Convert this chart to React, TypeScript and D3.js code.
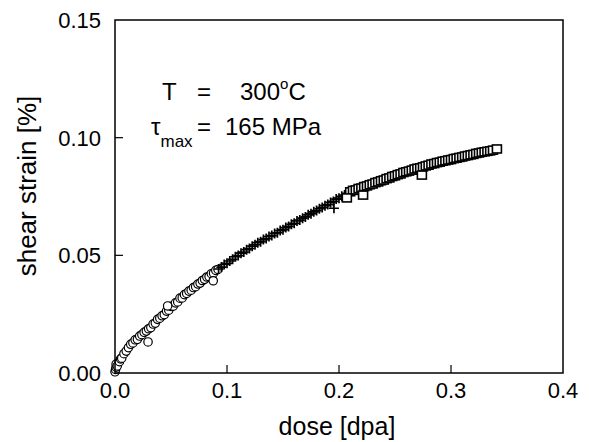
import React from 'react';
import * as d3 from 'd3';

// dose [dpa] vs shear strain [%], three overlapping data sets
const circles: [number, number][] = [
  [0.000, 0.0005], [0.0005, 0.0015], [0.001, 0.0025], [0.001, 0.0038], [0.002, 0.0030],
  [0.004, 0.0048], [0.005, 0.0060], [0.006, 0.0063], [0.008, 0.0082], [0.010, 0.0093],
  [0.012, 0.0108], [0.014, 0.0122], [0.016, 0.0128], [0.018, 0.0141], [0.020, 0.0143],
  [0.022, 0.0157], [0.024, 0.0163], [0.026, 0.0173], [0.028, 0.0178], [0.030, 0.0188],
  [0.032, 0.0193], [0.034, 0.0208], [0.036, 0.0212], [0.038, 0.0228], [0.040, 0.0233],
  [0.042, 0.0243], [0.044, 0.0248], [0.046, 0.0263], [0.048, 0.0267], [0.050, 0.0283],
  [0.052, 0.0284], [0.054, 0.0298], [0.056, 0.0302], [0.058, 0.0318], [0.060, 0.0319],
  [0.062, 0.0333], [0.064, 0.0338], [0.066, 0.0348], [0.068, 0.0352], [0.070, 0.0363],
  [0.072, 0.0367], [0.074, 0.0378], [0.076, 0.0382], [0.078, 0.0393], [0.080, 0.0398],
  [0.082, 0.0408], [0.084, 0.0410], [0.086, 0.0422], [0.088, 0.0424], [0.090, 0.0436],
  [0.092, 0.0440],
  [0.0295, 0.0132], [0.0877, 0.0392], [0.047, 0.0285]
];

const crosses: [number, number][] = [
  [0.0925, 0.0442], [0.0950, 0.0450], [0.0975, 0.0461], [0.1000, 0.0466], [0.1025, 0.0476],
  [0.1050, 0.0483], [0.1075, 0.0494], [0.1100, 0.0499], [0.1125, 0.0509], [0.1150, 0.0514],
  [0.1175, 0.0524], [0.1200, 0.0529], [0.1225, 0.0539], [0.1250, 0.0545], [0.1275, 0.0554],
  [0.1300, 0.0558], [0.1325, 0.0567], [0.1350, 0.0571], [0.1375, 0.0580], [0.1400, 0.0584],
  [0.1425, 0.0593], [0.1450, 0.0596], [0.1475, 0.0605], [0.1500, 0.0609], [0.1525, 0.0618],
  [0.1550, 0.0623], [0.1575, 0.0632], [0.1600, 0.0636], [0.1625, 0.0646], [0.1650, 0.0650],
  [0.1675, 0.0658], [0.1700, 0.0663], [0.1725, 0.0672], [0.1750, 0.0677], [0.1775, 0.0685],
  [0.1800, 0.0690], [0.1825, 0.0698], [0.1850, 0.0703], [0.1875, 0.0711], [0.1900, 0.0716],
  [0.1925, 0.0725], [0.1950, 0.0729], [0.1975, 0.0739], [0.2000, 0.0743], [0.2025, 0.0751],
  [0.2050, 0.0756], [0.2075, 0.0763], [0.2100, 0.0767],
  [0.1955, 0.0700]
];

const squares: [number, number][] = [
  [0.2100, 0.0770], [0.2125, 0.0776], [0.2150, 0.0778], [0.2175, 0.0784], [0.2200, 0.0786],
  [0.2225, 0.0792], [0.2250, 0.0795], [0.2275, 0.0800], [0.2300, 0.0803], [0.2325, 0.0809],
  [0.2350, 0.0812], [0.2375, 0.0817], [0.2400, 0.0820], [0.2425, 0.0826], [0.2450, 0.0829],
  [0.2475, 0.0835], [0.2500, 0.0838], [0.2525, 0.0843], [0.2550, 0.0846], [0.2575, 0.0852],
  [0.2600, 0.0855], [0.2625, 0.0858], [0.2650, 0.0862], [0.2675, 0.0867], [0.2700, 0.0870],
  [0.2725, 0.0872], [0.2750, 0.0876], [0.2775, 0.0880], [0.2800, 0.0883], [0.2825, 0.0888],
  [0.2850, 0.0890], [0.2875, 0.0894], [0.2900, 0.0896], [0.2925, 0.0900], [0.2950, 0.0902],
  [0.2975, 0.0905], [0.3000, 0.0907], [0.3025, 0.0911], [0.3050, 0.0913], [0.3075, 0.0916],
  [0.3100, 0.0918], [0.3125, 0.0922], [0.3150, 0.0924], [0.3175, 0.0927], [0.3200, 0.0929],
  [0.3225, 0.0933], [0.3250, 0.0935], [0.3275, 0.0938], [0.3300, 0.0940], [0.3325, 0.0942],
  [0.3350, 0.0944], [0.3375, 0.0947], [0.3410, 0.0952],
  [0.2070, 0.0744], [0.2215, 0.0756], [0.2740, 0.0841]
];

const xTicks = [0.0, 0.1, 0.2, 0.3, 0.4];
const yTicks = [0.0, 0.05, 0.1, 0.15];

const W = 589;
const H = 442;
const margin = { top: 20, right: 26, bottom: 69, left: 115 };
const font = 'Arial, "Liberation Sans", sans-serif';

export default function App() {
  const x = d3.scaleLinear().domain([0, 0.4]).range([margin.left, W - margin.right]);
  const y = d3.scaleLinear().domain([0, 0.15]).range([H - margin.bottom, margin.top]);
  const x0 = x(0), x1 = x(0.4), y0 = y(0), y1 = y(0.15);

  return (
    <svg width={W} height={H} style={{ position: 'absolute', left: 0, top: 0, background: '#fff' }}
      fontFamily={font}>
      <rect x={0} y={0} width={W} height={H} fill="#fff" />

      {/* ticks, pointing inward */}
      {xTicks.slice(1, -1).map(t => (
        <line key={'xt' + t} x1={x(t)} x2={x(t)} y1={y0} y2={y0 - 8} stroke="#000" strokeWidth={1.2} />
      ))}
      {yTicks.slice(1, -1).map(t => (
        <line key={'yt' + t} x1={x0} x2={x0 + 8} y1={y(t)} y2={y(t)} stroke="#000" strokeWidth={1.2} />
      ))}

      {/* data */}
      {circles.map((d, i) => (
        <circle key={'c' + i} cx={x(d[0])} cy={y(d[1])} r={4.2} fill="#fff" stroke="#000" strokeWidth={1.2} />
      ))}
      {crosses.map((d, i) => (
        <path key={'p' + i} d={`M${x(d[0]) - 5},${y(d[1])}h10M${x(d[0])},${y(d[1]) - 5}v10`}
          stroke="#000" strokeWidth={1.7} fill="none" />
      ))}
      {squares.map((d, i) => (
        <rect key={'s' + i} x={x(d[0]) - 4.5} y={y(d[1]) - 4} width={9} height={8}
          fill="#fff" stroke="#000" strokeWidth={1.6} />
      ))}

      {/* frame */}
      <rect x={x0} y={y1} width={x1 - x0} height={y0 - y1} fill="none" stroke="#000" strokeWidth={1.5} />

      {/* tick labels */}
      {xTicks.map(t => (
        <text key={'xl' + t} x={x(t)} y={398} textAnchor="middle" fontSize={22}>{t.toFixed(1)}</text>
      ))}
      {yTicks.map(t => (
        <text key={'yl' + t} x={101} y={y(t) + 8} textAnchor="end" fontSize={22}>{t.toFixed(2)}</text>
      ))}

      {/* axis titles */}
      <text x={337} y={435} textAnchor="middle" fontSize={25}>dose [dpa]</text>
      <text transform={`translate(36,186) rotate(-90)`} textAnchor="middle" fontSize={26}>shear strain [%]</text>

      {/* annotation */}
      <text x={162} y={100} fontSize={24}>T</text>
      <text x={197} y={100} fontSize={24}>=</text>
      <text x={240} y={100} fontSize={24}>300<tspan fontSize={15} dy={-11}>o</tspan><tspan dy={11}>C</tspan></text>
      <text x={151} y={135} fontSize={24}>τ<tspan fontSize={17} dy={12}>max</tspan></text>
      <text x={197} y={135} fontSize={24}>=</text>
      <text x={225} y={135} fontSize={24}>165 MPa</text>
    </svg>
  );
}
